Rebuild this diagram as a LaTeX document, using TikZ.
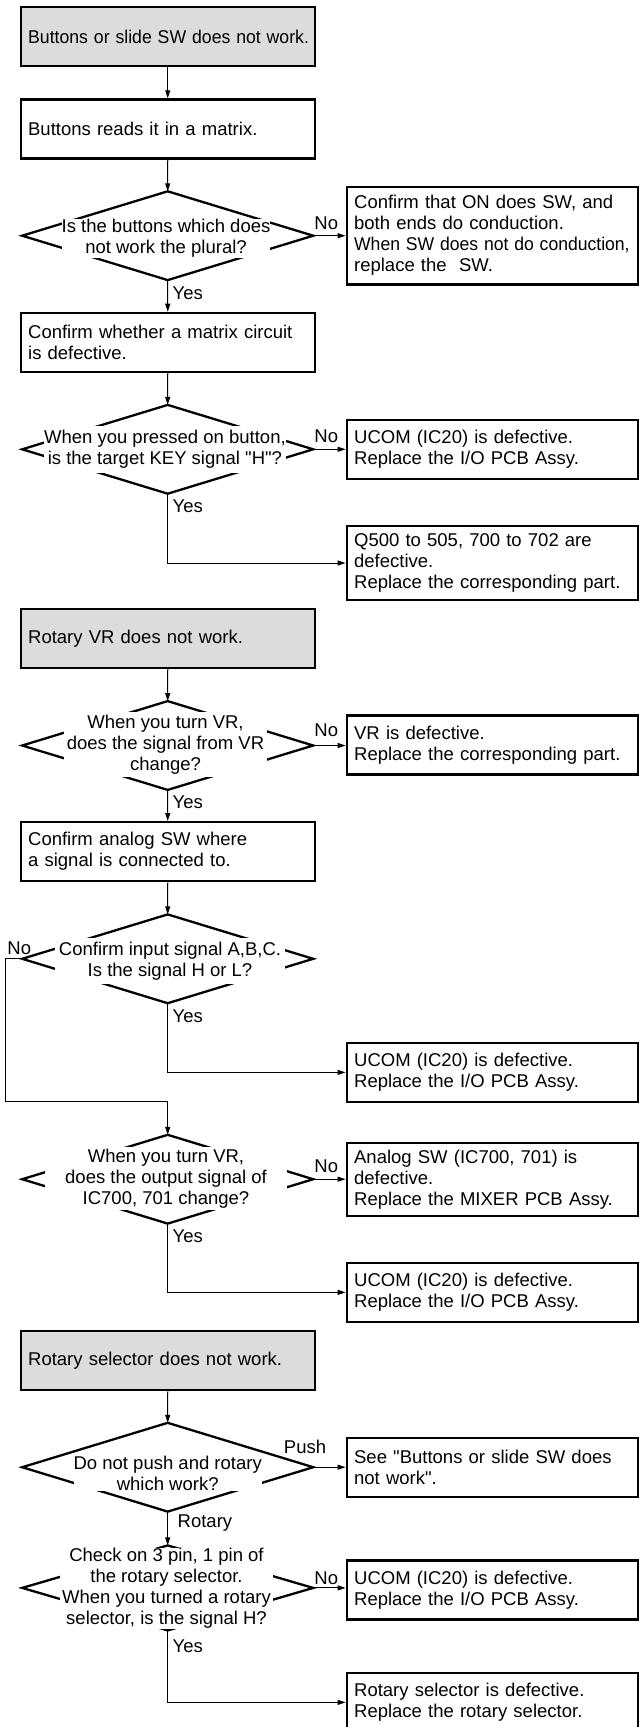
\documentclass[tikz,border=0pt]{standalone}
\usepackage{fontspec}
\setmainfont{Liberation Sans}[Ligatures=TeXOff]
\usetikzlibrary{shapes.geometric,arrows.meta}
\definecolor{startgray}{RGB}{220,220,222}
\begin{document}
\begin{tikzpicture}[x=1pt,y=-1pt,
  font=\fontsize{18.5pt}{21pt}\selectfont,
  base/.style={draw, line width=2.3pt, anchor=north west, align=left, inner xsep=7.4pt, inner ysep=0pt},
  lbox/.style={base, minimum width=294pt, text width=279.2pt, minimum height=59pt},
  sbox/.style={lbox, fill=startgray},
  rbox/.style={base, minimum width=291.1pt, text width=276.3pt, minimum height=59pt},
  dia/.style={diamond, draw, line width=2.3pt, inner sep=0pt, outer sep=0pt, minimum width=291pt, minimum height=88.8pt},
  dtext/.style={fill=white, align=center, inner sep=0pt},
  lbl/.style={inner sep=0pt},
  conn/.style={line width=1pt, -{Triangle[length=8pt,width=5pt]}},
]
\useasboundingbox (0,0) rectangle (639,1727);
\clip (0,0) rectangle (639,1727);

% --- Buttons / slide switch ---
\node[sbox] (s1) at (19.6,6) {\scalebox{0.955}[1]{Buttons or slide SW does not work.}};
\node[lbox] (p1) at (19.6,98.3) {Buttons reads it in a matrix.};
\node[dia] (d1) at (167.7,235.7) {};
\node[dtext] (q1) at (166,238.5) {Is the buttons which does\\not work the plural?};
\node[rbox, minimum height=97.7pt] (r1) at (345.6,185.7) {Confirm that ON does SW, and\\both ends do conduction.\\\scalebox{0.95}[1]{When SW does not do conduction,}\\replace the\ \ SW.};
\node[lbox] (p2) at (19.6,311.7) {Confirm whether a matrix circuit\\is defective.};
\node[dia] (d2) at (167.7,449.3) {};
\node[dtext, minimum width=240pt, minimum height=46.5pt] (q2) at (164.9,449.5) {When you pressed on button,\\is the target KEY signal "H"?};
\node[rbox] (r2) at (345.6,419) {UCOM (IC20) is defective.\\Replace the I/O PCB Assy.};
\node[rbox, minimum height=73.7pt] (r3) at (345.6,525) {Q500 to 505, 700 to 702 are\\defective.\\Replace the corresponding part.};

% --- Rotary VR ---
\node[sbox] (s2) at (19.6,607.7) {Rotary VR does not work.};
\node[dia] (d3) at (167.7,745.5) {};
\node[dtext, minimum width=203pt, minimum height=65.6pt] (q3) at (165.5,744.5) {When you turn VR,\\does the signal from VR\\change?};
\node[rbox] (r4) at (345.6,714.3) {VR is defective.\\Replace the corresponding part.};
\node[lbox] (p3) at (19.6,821) {Confirm analog SW where\\a signal is connected to.};
\node[dia] (d4) at (167.7,958.8) {};
\node[dtext, minimum width=230pt, minimum height=45.7pt] (q4) at (170,961.2) {Confirm input signal A,B,C.\\Is the signal H or L?};
\node[rbox] (r5) at (345.6,1041.7) {UCOM (IC20) is defective.\\Replace the I/O PCB Assy.};
\node[dia] (d5) at (167.7,1179.2) {};
\node[dtext, minimum width=242pt, minimum height=63.3pt] (q5) at (166,1178.4) {When you turn VR,\\does the output signal of\\IC700, 701 change?};
\node[rbox, minimum height=73.3pt] (r6) at (345.6,1141.7) {Analog SW (IC700, 701) is\\defective.\\Replace the MIXER PCB Assy.};
\node[rbox] (r7) at (345.6,1261.7) {UCOM (IC20) is defective.\\Replace the I/O PCB Assy.};

% --- Rotary selector ---
\node[sbox] (s3) at (19.6,1330) {Rotary selector does not work.};
\node[dia] (d6) at (167.7,1467.2) {};
\node[dtext] (q6) at (167.7,1473.5) {Do not push and rotary\\which work?};
\node[rbox] (r8) at (345.6,1436.7) {See "Buttons or slide SW does\\not work".};
\node[dia, minimum height=85pt] (d7) at (167.7,1587.9) {};
\node[dtext, minimum width=213pt, minimum height=80pt] (q7) at (166.5,1588.5) {Check on 3 pin, 1 pin of\\the rotary selector.\\When you turned a rotary\\selector, is the signal H?};
\node[rbox] (r9) at (345.6,1559.3) {UCOM (IC20) is defective.\\Replace the I/O PCB Assy.};
\node[rbox] (r10) at (345.6,1671.7) {Rotary selector is defective.\\Replace the rotary selector.};

% --- branch labels ---
\node[lbl] (n1) at (326.3,223.3) {No};
\node[lbl] (n2) at (326.3,436.7) {No};
\node[lbl] (n3) at (326.3,730) {No};
\node[lbl] (n4) at (19.3,948.3) {No};
\node[lbl] (n5) at (326.3,1166.7) {No};
\node[lbl] (n7) at (326.3,1578.3) {No};
\node[lbl] (push) at (305,1446.7) {Push};
\node[lbl, anchor=west] (y1) at (172.5,293.3) {Yes};
\node[lbl, anchor=west] (y2) at (172.5,506.7) {Yes};
\node[lbl, anchor=west] (y3) at (172.5,802.7) {Yes};
\node[lbl, anchor=west] (y4) at (172.5,1016.7) {Yes};
\node[lbl, anchor=west] (y5) at (172.5,1236.7) {Yes};
\node[lbl, anchor=west] (rot) at (177.5,1523.3) {Rotary};
\node[lbl, anchor=west] (y7) at (172.5,1646.7) {Yes};

% --- connectors ---
\draw[conn] (s1.south) -- (p1.north);
\draw[conn] (p1.south) -- (d1.north);
\draw[conn] (d1.east) -- (d1.east -| r1.west);
\draw[conn] (d1.south) -- (p2.north);
\draw[conn] (p2.south) -- (d2.north);
\draw[conn] (d2.east) -- (d2.east -| r2.west);
\draw[conn] (d2.south) |- (r3.west);
\draw[conn] (s2.south) -- (d3.north);
\draw[conn] (d3.east) -- (d3.east -| r4.west);
\draw[conn] (d3.south) -- (p3.north);
\draw[conn] (p3.south) -- (d4.north);
\draw[conn] (d4.south) |- (r5.west);
\coordinate (k1) at (5,1101.7);
\draw[conn] (d4.west) -| (k1) -| (d5.north);
\draw[conn] (d5.east) -- (d5.east -| r6.west);
\draw[conn] (d5.south) |- (r7.west);
\draw[conn] (s3.south) -- (d6.north);
\draw[conn] (d6.east) -- (d6.east -| r8.west);
\draw[conn] (d6.south) -- (d7.north);
\draw[conn] (d7.east) -- (d7.east -| r9.west);
\draw[conn] (d7.south) |- (r10.west);
\end{tikzpicture}
\end{document}
